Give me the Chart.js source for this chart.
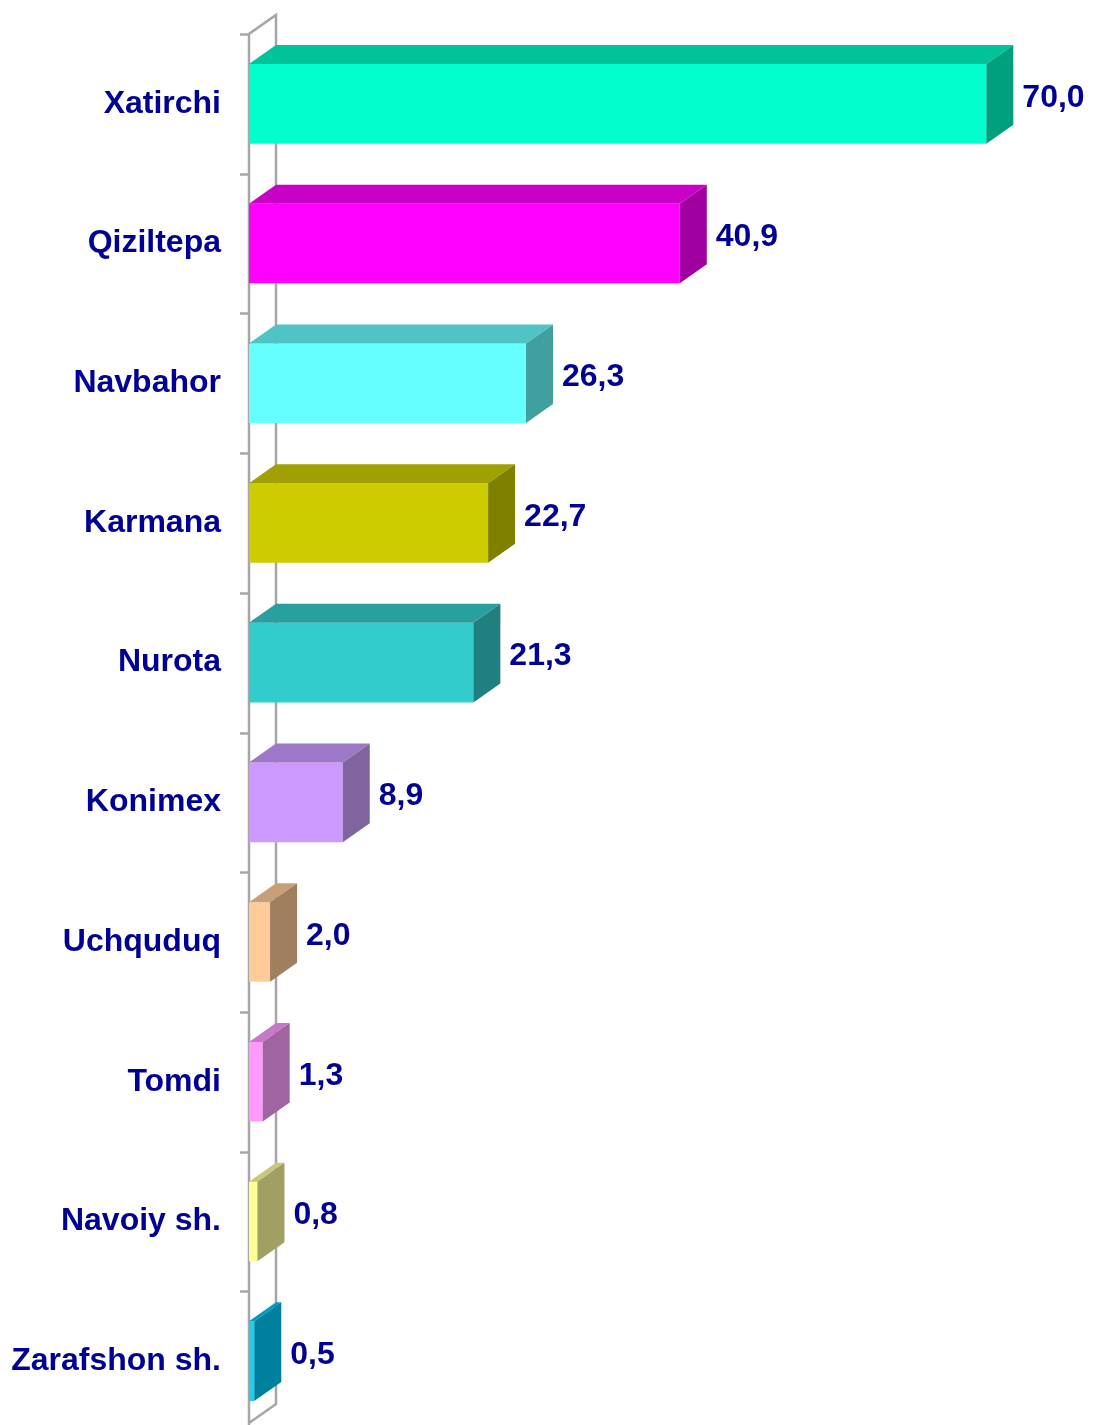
<!DOCTYPE html>
<html>
<head>
<meta charset="utf-8">
<script src="https://cdn.jsdelivr.net/npm/chart.js@4.4.1/dist/chart.umd.min.js"></script>
<style>
  html, body { margin: 0; padding: 0; background: #fff; overflow: hidden; }
  canvas { display: block; }
</style>
</head>
<body>
<canvas id="barChart" width="1095" height="1440"></canvas>
<script>
// 지역별 값
const regions = ['Xatirchi', 'Qiziltepa', 'Navbahor', 'Karmana', 'Nurota', 'Konimex', 'Uchquduq', 'Tomdi', 'Navoiy sh.', 'Zarafshon sh.'];
const values = [70.0, 40.9, 26.3, 22.7, 21.3, 8.9, 2.0, 1.3, 0.8, 0.5];

// 앞면 / 윗면 / 옆면 색
const frontColors = ['#00FFCC', '#FF00FF', '#66FFFF', '#CCCC00', '#33CCCC', '#CC99FF', '#FFCC99', '#FF99FF', '#FFFF99', '#22CCEE'];
const topColors   = ['#00C29B', '#C800C8', '#50C4C4', '#A0A000', '#28A0A0', '#9E78C8', '#C8A078', '#C878C8', '#C8C878', '#0099C0'];
const sideColors  = ['#00A07F', '#A000A0', '#40A0A0', '#808000', '#208080', '#8064A0', '#A07F60', '#A064A0', '#A0A064', '#00809F'];

const textColor = '#000094';
const wallColor = '#A6A6A6';
const DX = 27, DY = 19;   // 깊이 방향 오프셋
const FAMILY = '"Liberation Sans", Arial, sans-serif';
const FONT = 'bold 32px ' + FAMILY;

const fmt = v => v.toFixed(1).replace('.', ',');

// 뒤쪽 벽과 눈금
const wallPlugin = {
    id: 'wall',
    beforeDatasetsDraw(chart) {
        const { ctx, chartArea: a, scales: { y } } = chart;
        ctx.save();
        ctx.strokeStyle = wallColor;
        ctx.lineWidth = 2.5;
        ctx.beginPath();
        ctx.moveTo(a.left, chart.height);
        ctx.lineTo(a.left, a.top);
        ctx.lineTo(a.left + DX, a.top - DY);
        ctx.lineTo(a.left + DX, a.bottom - 8 - DY);
        ctx.lineTo(a.left, a.bottom - 8);
        ctx.stroke();
        // 눈금
        ctx.beginPath();
        for (let k = 0; k <= regions.length; k++) {
            const ty = Math.round(y.getPixelForValue(k - 0.5)) + 0.5;
            ctx.moveTo(a.left - 9, ty);
            ctx.lineTo(a.left, ty);
        }
        ctx.stroke();
        ctx.restore();
    }
};

// 입체 막대의 윗면, 옆면, 값 표시
const boxPlugin = {
    id: 'box3d',
    afterDatasetsDraw(chart) {
        const { ctx } = chart;
        const meta = chart.getDatasetMeta(0);
        ctx.save();
        meta.data.forEach((bar, i) => {
            const { x, y, base, height } = bar.getProps(['x', 'y', 'base', 'height'], true);
            const t = y - height / 2, b = y + height / 2;
            // 윗면
            ctx.fillStyle = topColors[i];
            ctx.beginPath();
            ctx.moveTo(base, t);
            ctx.lineTo(base + DX, t - DY);
            ctx.lineTo(x + DX, t - DY);
            ctx.lineTo(x, t);
            ctx.closePath();
            ctx.fill();
            // 옆면
            ctx.fillStyle = sideColors[i];
            ctx.beginPath();
            ctx.moveTo(x, t);
            ctx.lineTo(x + DX, t - DY);
            ctx.lineTo(x + DX, b - DY);
            ctx.lineTo(x, b);
            ctx.closePath();
            ctx.fill();
            // 값
            ctx.fillStyle = textColor;
            ctx.font = FONT;
            ctx.textAlign = 'left';
            ctx.textBaseline = 'middle';
            ctx.fillText(fmt(values[i]), x + DX + 9, y - 6);
        });
        ctx.restore();
    }
};

const ctx = document.getElementById('barChart').getContext('2d');
new Chart(ctx, {
    type: 'bar',
    data: {
        labels: regions,
        datasets: [{
            data: values,
            backgroundColor: frontColors,
            borderWidth: 0,
            barPercentage: 0.57,
            categoryPercentage: 1.0
        }]
    },
    options: {
        indexAxis: 'y',
        responsive: false,
        animation: false,
        layout: { padding: { top: 34, right: 56, bottom: 9, left: 0 } },
        plugins: {
            legend: { display: false },
            tooltip: { enabled: false }
        },
        scales: {
            x: {
                display: false,
                min: 0,
                max: 75
            },
            y: {
                grid: { display: false, drawTicks: false },
                border: { display: false },
                ticks: {
                    padding: 28,
                    color: textColor,
                    font: { family: FAMILY, size: 32, weight: 'bold' }
                },
                afterFit: s => {
                    s.width = 249;
                    s.paddingTop = 0;
                    s.paddingBottom = 0;
                }
            }
        }
    },
    plugins: [wallPlugin, boxPlugin]
});
</script>
</body>
</html>
